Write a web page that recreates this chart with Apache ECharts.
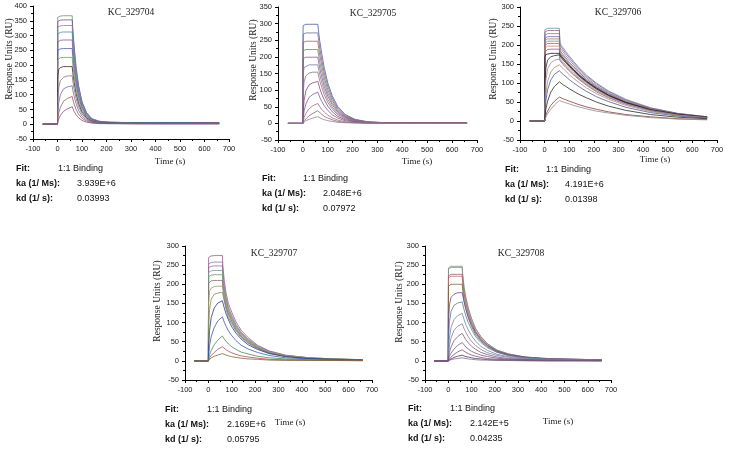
<!DOCTYPE html>
<html><head><meta charset="utf-8">
<script src="https://cdn.jsdelivr.net/npm/echarts@6/dist/echarts.min.js"></script>
<style>html,body{margin:0;padding:0;background:#fff}#c{width:729px;height:450px}</style>
</head><body><div id="c"></div>
<script>
// ---------------- DATA ----------------
const TIME = [-60,0,1,5,12,25,40,60,62,68,76,86,100,118,140,170,210,260,330,430,540,660];
const TITLES = ['KC_329704','KC_329705','KC_329706','KC_329707','KC_329708'];
const FIT_MODEL = '1:1 Binding';
const KA = ['3.939E+6','2.048E+6','4.191E+6','2.169E+6','2.142E+5'];
const KD = ['0.03993','0.07972','0.01398','0.05795','0.04235'];
const Y_MAX = [400,350,300,300,300];
const Y_MIN = -50;
const X_MIN = -100, X_MAX = 700;

const KC_329704 = [
  [0,0,362,365,366,367,367,367,330,264,195,132,77,40,19,10,7,6,6,6,6,6],
  [0,0,348,351,352,353,353,353,318,254,187,127,74,39,18,10,7,6,5,5,5,5],
  [0,0,329,332,333,334,334,334,301,240,177,120,70,37,17,9,6,5,5,5,5,5],
  [0,0,306,310,311,312,312,312,281,225,165,112,66,34,16,8,6,5,5,4,4,4],
  [0,0,279,283,284,285,285,285,257,205,151,103,60,31,15,8,5,4,4,4,4,4],
  [0,0,250,254,255,256,256,256,230,184,136,92,54,28,13,7,5,4,4,4,4,3],
  [0,0,218,223,225,226,226,226,204,163,120,81,47,25,12,6,4,4,3,3,3,3],
  [0,0,160,185,192,195,195,195,176,140,103,70,41,22,10,5,4,3,3,3,3,3],
  [0,0,74,123,148,159,163,164,148,118,87,59,35,18,9,5,3,3,3,2,2,2],
  [0,0,33,72,101,120,126,130,117,94,69,47,27,15,7,4,3,2,2,2,2,2],
  [0,0,14,38,58,78,87,94,85,68,50,34,20,11,5,3,2,2,2,2,2,2],
  [0,0,6,18,30,44,52,59,53,43,32,22,13,7,4,2,2,2,1,1,1,1]
];
const KC_329705 = [
  [0,0,294,297,298,298,298,298,283,247,209,167,122,83,51,27,12,5,2,1,1,1],
  [0,0,268,271,272,272,272,272,258,226,190,152,112,76,46,24,11,4,2,1,1,1],
  [0,0,243,246,247,247,247,247,235,205,173,138,101,69,42,22,10,4,2,1,1,1],
  [0,0,218,221,222,222,222,222,211,184,155,124,91,62,38,20,9,3,1,1,1,1],
  [0,0,194,198,199,199,199,199,189,165,139,111,82,56,34,18,8,3,1,1,1,1],
  [0,0,145,168,173,176,176,176,167,146,123,99,72,49,30,16,7,3,1,1,1,1],
  [0,0,85,126,143,151,154,154,146,128,108,86,63,43,26,14,6,2,1,1,1,1],
  [0,0,32,69,98,116,122,126,120,105,88,71,52,35,21,11,5,2,1,1,1,1],
  [0,0,14,38,58,78,87,94,89,78,66,53,39,26,16,8,4,1,1,1,1,1],
  [0,0,6,18,30,44,53,60,57,50,42,34,25,17,10,5,2,1,1,1,1,1],
  [0,0,2,8,14,23,30,38,36,32,27,21,16,11,6,3,2,1,1,0,0,0],
  [0,0,1,4,8,12,16,20,19,17,14,11,8,6,3,2,1,0,0,0,0,0]
];
const KC_329706 = [
  [0,0,240,243,244,244,244,244,205,199,192,183,171,157,140,121,100,79,57,35,20,11],
  [0,0,234,237,238,238,238,238,200,194,187,178,167,153,137,118,98,77,55,34,20,11],
  [0,0,226,229,230,230,230,230,193,188,181,172,161,148,132,114,94,74,53,33,19,11],
  [0,0,218,221,222,222,222,222,186,181,174,166,155,143,128,110,91,72,51,32,19,10],
  [0,0,211,215,216,216,216,216,181,176,170,162,151,139,124,107,89,70,50,31,18,10],
  [0,0,205,209,210,210,210,210,176,171,165,157,147,135,121,104,86,68,49,30,18,10],
  [0,0,199,203,204,204,204,204,171,166,160,153,143,131,117,101,84,66,47,29,17,10],
  [0,0,191,195,197,197,197,197,165,161,155,147,138,126,113,98,81,64,46,28,17,9],
  [0,0,182,187,188,189,189,189,159,154,148,141,132,121,109,94,77,61,44,27,16,9],
  [0,0,168,175,177,178,178,178,176,171,165,157,147,135,121,105,87,68,49,30,18,10],
  [0,0,87,139,160,169,172,174,172,167,161,154,144,132,118,103,85,67,48,29,17,10],
  [0,0,57,106,137,153,160,163,161,157,151,144,134,123,111,96,79,62,45,28,16,9],
  [0,0,30,71,104,129,141,148,147,142,137,131,122,112,101,87,72,57,41,25,15,8],
  [0,0,20,53,82,108,123,132,131,127,122,117,109,100,90,78,64,51,36,22,13,7],
  [0,0,10,31,52,76,91,103,102,99,95,91,85,78,70,61,50,39,28,17,10,6],
  [0,0,5,16,26,41,52,63,62,61,58,56,52,48,43,37,31,24,17,11,6,4],
  [0,0,3,10,19,31,42,54,53,52,50,48,45,41,37,32,26,21,15,9,5,3]
];
const KC_329707 = [
  [0,0,270,273,274,275,275,275,248,209,176,149,127,102,80,61,41,26,15,8,5,3],
  [0,0,253,256,257,258,258,258,232,196,165,139,119,95,75,57,39,25,14,8,5,3],
  [0,0,243,246,247,248,248,248,223,188,159,134,114,92,72,55,37,24,14,7,4,3],
  [0,0,231,234,235,236,236,236,212,179,151,127,109,87,68,52,35,22,13,7,4,3],
  [0,0,219,223,224,225,225,225,203,171,144,122,104,83,65,50,34,21,12,7,4,3],
  [0,0,203,208,209,210,210,210,189,160,134,113,97,78,61,46,32,20,12,6,4,3],
  [0,0,150,182,190,194,195,195,189,172,152,133,111,90,70,53,37,23,14,8,5,3],
  [0,0,81,134,161,174,177,179,174,158,140,122,102,82,64,48,34,21,13,7,4,3],
  [0,0,31,79,113,138,151,157,152,138,122,107,89,72,57,42,30,19,11,6,4,2],
  [0,0,14,40,63,87,104,115,112,101,90,78,66,53,41,31,22,14,8,5,3,2],
  [0,0,5,16,27,42,54,65,63,57,51,44,37,30,23,18,12,8,5,3,2,1],
  [0,0,4,8,14,22,30,37,36,33,29,25,21,17,13,10,7,4,3,2,1,1],
  [0,0,3,5,8,12,15,19,18,17,15,13,11,9,7,5,4,2,1,1,1,0]
];
const KC_329708 = [
  [0,0,243,246,247,247,247,247,227,193,165,138,111,84,64,44,28,18,10,6,4,3],
  [0,0,240,243,244,244,244,244,224,190,163,137,110,83,63,44,28,18,10,6,4,3],
  [0,0,222,225,226,226,226,226,208,176,151,127,102,77,59,41,26,16,9,5,4,3],
  [0,0,217,220,221,221,221,221,203,172,148,124,99,75,57,40,25,16,9,5,4,3],
  [0,0,195,199,200,200,200,200,184,156,134,112,90,68,52,36,23,14,8,5,3,2],
  [0,0,98,146,166,174,178,178,173,155,135,116,94,73,55,39,25,16,10,5,4,2],
  [0,0,54,100,129,145,151,154,149,134,117,100,82,63,48,34,22,14,8,5,3,2],
  [0,0,25,60,87,108,118,124,120,108,94,81,66,51,38,27,17,11,7,4,2,2],
  [0,0,15,39,60,80,90,97,94,84,74,63,51,40,30,21,14,9,5,3,2,1],
  [0,0,7,22,36,53,63,72,70,63,55,47,38,30,22,16,10,6,4,2,1,1],
  [0,0,4,12,20,31,40,48,47,42,36,31,25,20,15,11,7,4,3,1,1,1],
  [0,0,2,5,10,17,23,29,28,25,22,19,15,12,9,6,4,3,2,1,1,0],
  [0,0,1,3,5,9,12,15,15,13,11,10,8,6,5,3,2,1,1,0,0,0],
  [0,0,1,2,3,5,6,8,8,7,6,5,4,3,2,2,1,1,0,0,0,0]
];
const PANEL_DATA = [KC_329704, KC_329705, KC_329706, KC_329707, KC_329708];

// ---------------- STYLE / LAYOUT ----------------
const LAYOUT = [
  {left:33,  top:6,   width:196, height:133, title:[131,12],  yname:[9,59],   xname:[170,162], fit:[16,58,77,169]},
  {left:278, top:7,   width:199, height:133, title:[373,13],  yname:[253,60], xname:[417,162], fit:[262,303,323,179]},
  {left:520, top:7,   width:197, height:133, title:[618,12],  yname:[493,59], xname:[655,160], fit:[505,546,565,170]},
  {left:185, top:246, width:187, height:134, title:[274,253], yname:[157,301], xname:[290,423], fit:[165,207,227,410]},
  {left:425, top:246, width:186, height:134, title:[521,253], yname:[399,302], xname:[558,422], fit:[408,450,470,409]}
];
const COLORS = [
  ['#5f9a6a','#7c4a98','#8d7f9e','#4a8d98','#8b55a5','#4c5db4','#6a9e5a','#4a2418','#8a6c92','#6b6fa0','#9a5a4a','#8a5090'],
  ['#4a5aa8','#6a6a9a','#a06060','#6a8a6a','#8a5a8a','#7a7aa0','#9a6a8a','#8a4a6a','#7a5a9a','#a07080','#8a6a6a','#9a7a9a'],
  ['#5a9a8a','#8a5aa0','#a06a8a','#5a6ab0','#9a7a5a','#b07070','#7a6a9a','#c09060','#8a5a8a','#1a1a1a','#2a2a3a','#9a8aa0','#b08a6a','#4a5a9a','#2a2a2a','#8a3a3a','#8a8a8a'],
  ['#9a5a8a','#8a7aa0','#a06aa0','#7a9a9a','#6a9a6a','#8a6a7a','#9a9a6a','#7a8a5a','#2a3a8a','#3a5ab0','#4a8a5a','#b04a5a','#7a6a3a'],
  ['#6a9a7a','#8a8a8a','#a05a6a','#b07070','#7a6a3a','#6a4a8a','#5a7aa0','#6a8aa0','#8a7a9a','#7a5a7a','#6a5a8a','#8a4a6a','#4a3a6a','#8a6a8a']
];

const SANS = '"Liberation Sans", Arial, sans-serif';
const SERIF = '"Liberation Serif", "Times New Roman", serif';

const grids = [], xAxes = [], yAxes = [], series = [], graphics = [];
LAYOUT.forEach((L, p) => {
  grids.push({left:L.left, top:L.top, width:L.width, height:L.height, outerBoundsMode:'none', containLabel:false});
  const axisCommon = {
    gridIndex:p, type:'value',
    axisLine:{show:true, onZero:false, lineStyle:{color:'#000', width:1}},
    axisTick:{show:true, length:3, lineStyle:{color:'#000', width:1}},
    minorTick:{show:true, splitNumber:2, length:2, lineStyle:{color:'#000', width:1}},
    splitLine:{show:false}, minorSplitLine:{show:false},
    axisLabel:{fontSize:7.5, color:'#222', fontFamily:SANS, margin:6}
  };
  xAxes.push(Object.assign({}, axisCommon, {min:X_MIN, max:X_MAX, interval:100}));
  yAxes.push(Object.assign({}, axisCommon, {min:Y_MIN, max:Y_MAX[p], interval:50}));
  PANEL_DATA[p].forEach((vals, i) => {
    series.push({
      type:'line', xAxisIndex:p, yAxisIndex:p, silent:true,
      showSymbol:false, symbol:'none', animation:false,
      lineStyle:{width:0.8, color:COLORS[p][i % COLORS[p].length]},
      data: TIME.map((t, k) => [t, vals[k]])
    });
  });
  graphics.push({type:'text', x:L.title[0], y:L.title[1], style:{text:TITLES[p], font:'9.5px '+SERIF, fill:'#222', align:'center', verticalAlign:'middle'}});
  graphics.push({type:'text', x:L.yname[0], y:L.yname[1], rotation:Math.PI/2, style:{text:'Response Units (RU)', font:'9.5px '+SERIF, fill:'#222', align:'center', verticalAlign:'middle'}});
  graphics.push({type:'text', x:L.xname[0], y:L.xname[1], style:{text:'Time (s)', font:'9px '+SERIF, fill:'#222', align:'center', verticalAlign:'middle'}});
  const [fx, fv1, fv2, fy] = L.fit;
  const rows = [['Fit:', FIT_MODEL, fv1], ['ka (1/ Ms):', KA[p], fv2], ['kd (1/ s):', KD[p], fv2]];
  rows.forEach((r, j) => {
    const yy = fy + j * 15;
    graphics.push({type:'text', x:fx, y:yy, style:{text:r[0], font:'bold 9px '+SANS, fill:'#111', align:'left', verticalAlign:'middle'}});
    graphics.push({type:'text', x:r[2], y:yy, style:{text:r[1], font:'9px '+SANS, fill:'#111', align:'left', verticalAlign:'middle'}});
  });
});

const chart = echarts.init(document.getElementById('c'), null, {renderer:'canvas'});
chart.setOption({
  animation:false, backgroundColor:'#fff',
  grid:grids, xAxis:xAxes, yAxis:yAxes, series:series, graphic:graphics
});
</script>
</body></html>
